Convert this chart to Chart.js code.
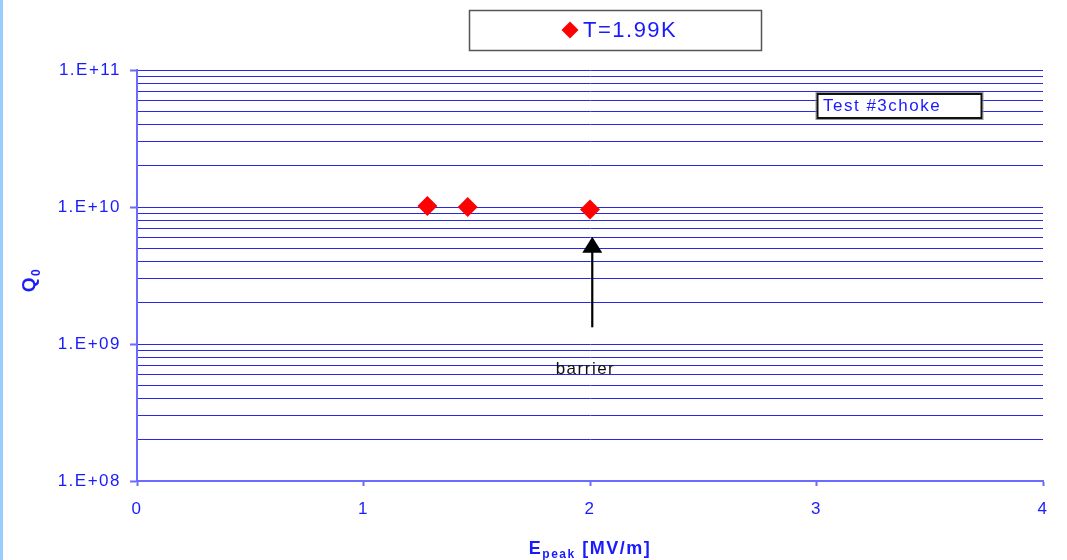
<!DOCTYPE html>
<html>
<head>
<meta charset="utf-8">
<script src="https://cdn.jsdelivr.net/npm/chart.js@4"></script>
<style>
  html, body { margin: 0; padding: 0; background: #ffffff; }
  #wrap { position: relative; width: 1067px; height: 560px; overflow: hidden; }
  #edge { position: absolute; left: 0; top: 0; width: 3px; height: 560px; background: #99ccff; }
  canvas { display: block; }
</style>
</head>
<body>
<div id="wrap">
  <canvas id="c" width="1067" height="560"></canvas>
  <div id="edge"></div>
</div>
<script>
// Measured points: peak surface field vs. unloaded quality factor
const seriesLabel = 'T=1.99K';
const epeak = [1.282, 1.46, 2.0];
const q0 = [1.015e10, 1.0e10, 0.96e10];

// Axis ticks
const xTicks = [0, 1, 2, 3, 4];
const yDecades = [1e8, 1e9, 1e10, 1e11];
const yDecadeLabels = ['1.E+08', '1.E+09', '1.E+10', '1.E+11'];
const yMinorSteps = [1, 2, 3, 4, 5, 6, 7, 8, 9];

// Text annotations
const noteText = 'Test #3choke';
const barrierText = 'barrier';
const xTitleMain = 'E';
const xTitleSub = 'peak';
const xTitleRest = ' [MV/m]';
const yTitleMain = 'Q';
const yTitleSub = '0';

const FONT = '"Liberation Sans", Arial, Helvetica, sans-serif';
const BLUE = '#1a1aff';
const GRID = '#2828e6';
const AXIS = '#6b6bff';
const SPACING = '1.5px';

const isDecade = v => Math.abs(Math.log10(v) - Math.round(Math.log10(v))) < 1e-9;

// every 1..9 multiple in each decade, closing with the top decade
const yTickValues = [];
yDecades.slice(0, -1).forEach(d => yMinorSteps.forEach(m => yTickValues.push(m * d)));
yTickValues.push(yDecades[yDecades.length - 1]);

function decadeLabel(v) {
  if (!isDecade(v)) return '';
  const i = yDecades.findIndex(d => Math.abs(d - v) / d < 1e-9);
  return i >= 0 ? yDecadeLabels[i] : '';
}

function seriesPoints() {
  return epeak.map((e, i) => ({ x: e, y: q0[i] }));
}

// Arrow marking the barrier, in data units
const barrier = { x: 2.01, yFrom: 1.324e9, yTo: 6.07e9, labelX: 1.98, labelY: 6.0e8 };

const decorations = {
  id: 'decorations',
  beforeLayout(chart) { chart.ctx.letterSpacing = SPACING; },
  beforeDraw(chart) { chart.ctx.letterSpacing = SPACING; },
  afterDraw(chart) {
    const { ctx, scales: { x, y } } = chart;
    ctx.save();
    ctx.letterSpacing = SPACING;

    // barrier arrow
    const ax = x.getPixelForValue(barrier.x);
    const y0 = y.getPixelForValue(barrier.yFrom);
    const y1 = y.getPixelForValue(barrier.yTo);
    const headLen = 16, headHalf = 10;
    ctx.strokeStyle = '#000';
    ctx.lineWidth = 2.2;
    ctx.beginPath();
    ctx.moveTo(ax, y0);
    ctx.lineTo(ax, y1 + headLen - 1);
    ctx.stroke();
    ctx.fillStyle = '#000';
    ctx.beginPath();
    ctx.moveTo(ax, y1);
    ctx.lineTo(ax + headHalf, y1 + headLen);
    ctx.lineTo(ax - headHalf, y1 + headLen);
    ctx.closePath();
    ctx.fill();

    // barrier label
    ctx.font = '17px ' + FONT;
    ctx.textAlign = 'center';
    ctx.textBaseline = 'alphabetic';
    ctx.fillStyle = '#111';
    ctx.fillText(barrierText, x.getPixelForValue(barrier.labelX), y.getPixelForValue(barrier.labelY));

    // note box
    ctx.fillStyle = '#fff';
    ctx.fillRect(817, 93.5, 165, 25);
    ctx.strokeStyle = '#999';
    ctx.lineWidth = 1;
    ctx.strokeRect(816, 92.5, 167, 27);
    ctx.strokeStyle = '#111';
    ctx.lineWidth = 2;
    ctx.strokeRect(817.5, 94, 164, 24);
    ctx.font = '17px ' + FONT;
    ctx.textAlign = 'left';
    ctx.fillStyle = BLUE;
    ctx.fillText(noteText, 823, 111);

    // legend box
    ctx.fillStyle = '#fff';
    ctx.fillRect(469.5, 10.5, 292, 40);
    ctx.strokeStyle = '#555';
    ctx.lineWidth = 1.5;
    ctx.strokeRect(469.5, 10.5, 292, 40);
    const ds = chart.data.datasets[0];
    const lx = 570, ly = 30, lr = 8.5;
    ctx.fillStyle = ds.backgroundColor;
    ctx.beginPath();
    ctx.moveTo(lx, ly - lr);
    ctx.lineTo(lx + lr, ly);
    ctx.lineTo(lx, ly + lr);
    ctx.lineTo(lx - lr, ly);
    ctx.closePath();
    ctx.fill();
    ctx.font = '22px ' + FONT;
    ctx.fillStyle = BLUE;
    ctx.textAlign = 'left';
    ctx.fillText(ds.label, 583, 37);

    // x axis title with subscript
    const big = 'bold 18px ' + FONT, small = 'bold 12px ' + FONT;
    ctx.font = big; const w1 = ctx.measureText(xTitleMain).width;
    const w3 = ctx.measureText(xTitleRest).width;
    ctx.font = small; const w2 = ctx.measureText(xTitleSub).width;
    let tx = 590 - (w1 + w2 + w3) / 2;
    ctx.fillStyle = BLUE;
    ctx.font = big; ctx.fillText(xTitleMain, tx, 554); tx += w1;
    ctx.font = small; ctx.fillText(xTitleSub, tx, 558); tx += w2;
    ctx.font = big; ctx.fillText(xTitleRest, tx, 554);

    // y axis title with subscript, rotated
    ctx.translate(35, 280);
    ctx.rotate(-Math.PI / 2);
    ctx.font = 'bold 19px ' + FONT; const q1 = ctx.measureText(yTitleMain).width;
    ctx.font = 'bold 12px ' + FONT; const q2 = ctx.measureText(yTitleSub).width;
    let qx = -(q1 + q2) / 2;
    ctx.font = 'bold 19px ' + FONT; ctx.fillText(yTitleMain, qx, 0); qx += q1;
    ctx.font = 'bold 12px ' + FONT; ctx.fillText(yTitleSub, qx, 5);

    ctx.restore();
  }
};

new Chart(document.getElementById('c'), {
  type: 'scatter',
  data: {
    datasets: [{
      label: seriesLabel,
      data: seriesPoints(),
      pointStyle: 'rectRot',
      pointRadius: 10,
      pointHoverRadius: 10,
      backgroundColor: '#ff0000',
      borderColor: '#ff0000',
      borderWidth: 0,
      showLine: false
    }]
  },
  options: {
    responsive: false,
    animation: false,
    devicePixelRatio: 1,
    events: [],
    layout: { padding: { left: 0, top: 70, right: 24, bottom: 0 } },
    plugins: { legend: { display: false }, tooltip: { enabled: false } },
    scales: {
      x: {
        type: 'linear',
        min: 0, max: 4,
        afterBuildTicks: s => { s.ticks = xTicks.map(v => ({ value: v })); },
        afterFit: s => { s.height = 79; },
        ticks: { color: BLUE, font: { family: FONT, size: 17 }, padding: 13, maxRotation: 0, autoSkip: false, callback: v => String(v) },
        grid: { drawOnChartArea: false, tickLength: 5, tickColor: AXIS, color: AXIS, tickWidth: 2 },
        border: { color: AXIS, width: 2 }
      },
      y: {
        type: 'logarithmic',
        min: 1e8, max: 1e11,
        afterBuildTicks: s => { s.ticks = yTickValues.map(v => ({ value: v })); },
        afterFit: s => { s.width = 137; },
        ticks: { color: BLUE, font: { family: FONT, size: 17 }, padding: 9, autoSkip: false, callback: v => decadeLabel(v) },
        grid: {
          color: GRID,
          lineWidth: 1,
          tickLength: 7,
          tickWidth: 2,
          tickColor: c => (c.tick && isDecade(c.tick.value)) ? AXIS : 'rgba(0,0,0,0)'
        },
        border: { color: AXIS, width: 2 }
      }
    }
  },
  plugins: [decorations]
});
</script>
</body>
</html>
